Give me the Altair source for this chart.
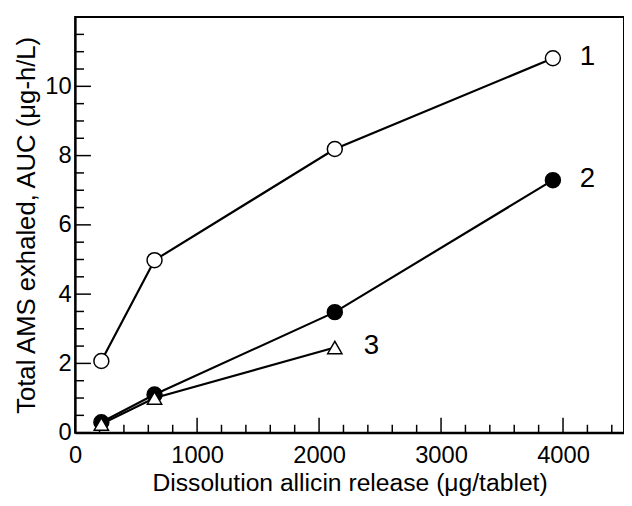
import altair as alt
import pandas as pd

# Data
s1_x = [215, 651, 2129, 3917]
s1_y = [2.07, 4.98, 8.19, 10.81]
s2_x = [215, 651, 2129, 3917]
s2_y = [0.30, 1.10, 3.48, 7.29]
s3_x = [215, 651, 2129]
s3_y = [0.25, 1.00, 2.46]

label_text = ["1", "2", "3"]
label_x = [4200, 4200, 2430]
label_y = [10.85, 7.33, 2.50]

x_major = [0, 1000, 2000, 3000, 4000]
x_minor = [200, 400, 600, 800, 1200, 1400, 1600, 1800, 2200, 2400, 2600, 2800,
           3200, 3400, 3600, 3800, 4200, 4400]
y_major = [0, 2, 4, 6, 8, 10]
y_minor = [0.5, 1, 1.5, 2.5, 3, 3.5, 4.5, 5, 5.5, 6.5, 7, 7.5, 8.5, 9, 9.5,
           10.5, 11, 11.5]

W, H = 556, 421
FONT = "Liberation Sans"

rows = []
for sx, sy, name in [(s1_x, s1_y, "1"), (s2_x, s2_y, "2"), (s3_x, s3_y, "3")]:
    for a, b in zip(sx, sy):
        rows.append({"x": a, "y": b, "series": name})
df = pd.DataFrame(rows)

xs = alt.Scale(domain=[0, 4500], nice=False, zero=False)
ys = alt.Scale(domain=[0, 12], nice=False, zero=False)

x_axis = alt.Axis(values=x_major, format="d",
                  title="Dissolution allicin release (μg/tablet)")
y_axis = alt.Axis(values=y_major, format="d",
                  title="Total AMS exhaled, AUC (μg-h/L)")

def X():
    return alt.X("x:Q", scale=xs, axis=x_axis)

def Y():
    return alt.Y("y:Q", scale=ys, axis=y_axis)

lines = alt.Chart(df).mark_line(color="black", strokeWidth=2.2).encode(
    x=X(), y=Y(), detail="series:N")

p1 = alt.Chart(df[df.series == "1"]).mark_point(
    shape="circle", size=230, filled=True, fill="white", stroke="black",
    strokeWidth=1.5, opacity=1).encode(x=X(), y=Y())
p2 = alt.Chart(df[df.series == "2"]).mark_point(
    shape="circle", size=230, filled=True, fill="black", stroke="black",
    strokeWidth=1.5, opacity=1).encode(x=X(), y=Y())
p3 = alt.Chart(df[df.series == "3"]).mark_point(
    shape="triangle-up", size=210, filled=True, fill="white", stroke="black",
    strokeWidth=1.5, opacity=1).encode(x=X(), y=Y())

lab_df = pd.DataFrame({"t": label_text, "x": label_x, "y": label_y})
labels = alt.Chart(lab_df).mark_text(
    font=FONT, fontSize=28, color="black", align="center", baseline="middle").encode(
    x=X(), y=Y(), text="t:N")

def xticks(vals, length):
    return alt.Chart(pd.DataFrame({"x": vals})).mark_rule(
        color="black", strokeWidth=1.5).encode(
        x=X(), y=alt.value(H), y2=alt.value(H - length))

def yticks(vals, length):
    return alt.Chart(pd.DataFrame({"y": vals})).mark_rule(
        color="black", strokeWidth=1.5).encode(
        y=Y(), x=alt.value(0), x2=alt.value(length))

chart = alt.layer(
    lines, xticks(x_major, 15), xticks(x_minor, 8), yticks(y_major, 16),
    yticks(y_minor, 9), p1, p2, p3, labels
).properties(
    width=W, height=H,
    background="white",
    autosize=alt.AutoSizeParams(type="none"),
    padding={"left": 68, "top": 6, "right": 0, "bottom": 63},
).configure_view(
    stroke="black", strokeWidth=2
).configure_axis(
    ticks=False, grid=False, domain=True, domainColor="black", domainWidth=2,
    labelFontSize=24, labelFont=FONT, labelColor="black", labelFlush=False,
    titleFont=FONT, titleFontWeight="normal", titleColor="black"
).configure_axisX(
    labelPadding=11, titlePadding=4, titleFontSize=25
).configure_axisY(
    labelPadding=4, titlePadding=5, titleFontSize=26
)

chart.save("out.html", embed_options={"renderer": "svg", "actions": False})
